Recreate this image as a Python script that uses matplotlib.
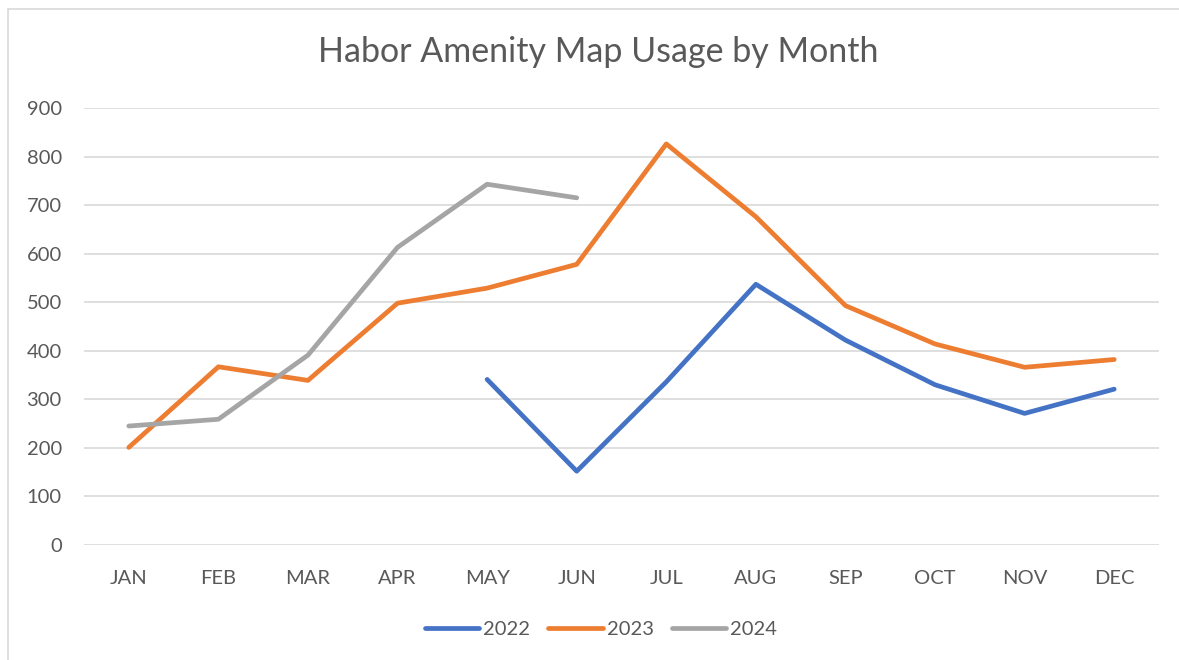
import numpy as np
import matplotlib.pyplot as plt
from matplotlib.patches import Rectangle

plt.rcParams['font.family'] = ['Lato', 'DejaVu Sans']

months = ['JAN', 'FEB', 'MAR', 'APR', 'MAY', 'JUN',
          'JUL', 'AUG', 'SEP', 'OCT', 'NOV', 'DEC']
nan = np.nan
usage_2022 = [nan, nan, nan, nan, 341, 152, 336, 537, 422, 330, 271, 321]
usage_2023 = [201, 367, 339, 498, 529, 578, 826, 676, 493, 414, 366, 382]
usage_2024 = [245, 259, 391, 613, 743, 715, nan, nan, nan, nan, nan, nan]

series = [('2022', usage_2022, '#4472C4'),
          ('2023', usage_2023, '#ED7D31'),
          ('2024', usage_2024, '#A5A5A5')]

W, H = 1179, 660
fig = plt.figure(figsize=(W / 100, H / 100), dpi=100)
fig.patches.append(Rectangle((8 / W, -0.1), 1.2, 1 - 9 / H + 0.1,
                             transform=fig.transFigure, fill=False,
                             edgecolor='#D9D9D9', linewidth=1.2))

ax = fig.add_axes([84 / W, 1 - 545 / H, (1159 - 84) / W, (545 - 108) / H])
x = np.arange(len(months))
for name, vals, col in series:
    ax.plot(x, vals, color=col, linewidth=3.4, label=name,
            solid_capstyle='round', solid_joinstyle='round')

ax.set_xlim(-0.5, 11.5)
ax.set_ylim(0, 900)
ax.set_yticks(np.arange(0, 901, 100))
ax.set_xticks(x)
ax.set_xticklabels(months)
ax.grid(axis='y', color='#D9D9D9', linewidth=1.2)
ax.set_axisbelow(True)
for s in ax.spines.values():
    s.set_visible(False)
ax.tick_params(length=0, labelsize=14.5, colors='#595959')
ax.tick_params(axis='x', pad=18)
ax.tick_params(axis='y', pad=16)

fig.text(598 / W, 1 - 52 / H, 'Habor Amenity Map Usage by Month',
         ha='center', va='center', fontsize=24.5, color='#595959')

fig.legend(loc='center', bbox_to_anchor=(601 / W, 1 - 629 / H), ncol=3,
           frameon=False, fontsize=14.5, labelcolor='#595959',
           handlelength=2.7, handletextpad=0.2, columnspacing=0.9)

fig.savefig('out.png', dpi=100)
